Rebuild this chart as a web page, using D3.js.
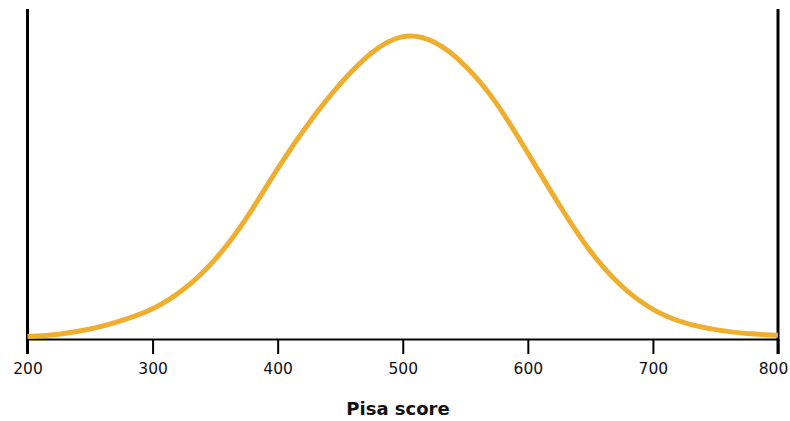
<!DOCTYPE html>
<html>
<head>
<meta charset="utf-8">
<script src="https://cdn.jsdelivr.net/npm/d3@7"></script>
<style>
  html, body { margin: 0; padding: 0; background: #fff; }
  svg { display: block; }
</style>
</head>
<body>
<svg id="chart" width="790" height="421"></svg>
<script>
// Pisa score (x) and relative frequency (% of peak)
const scores = [200, 225, 250, 275, 300, 325, 350, 375, 400, 425, 450, 475, 500,
                525, 550, 575, 600, 625, 650, 675, 700, 725, 750, 775, 800];
const frequency = [0.8, 1.6, 3.3, 6.1, 10.0, 16.5, 26.3, 39.9, 56.2, 71.3, 84.2, 94.4, 99.8,
                   98.0, 90.1, 77.7, 61.4, 44.4, 29.0, 17.5, 9.8, 5.4, 3.1, 1.8, 1.2];
const tickValues = [200, 300, 400, 500, 600, 700, 800];
const xTitle = "Pisa score";

const svg = d3.select("#chart");
const x = d3.scaleLinear().domain([200, 800]).range([27.5, 778]);
const y = d3.scaleLinear().domain([0, 100]).range([339, 36]);

// side lines
svg.append("line").attr("x1", x(200)).attr("x2", x(200)).attr("y1", 9).attr("y2", 354)
  .attr("stroke", "#000").attr("stroke-width", 3);
svg.append("line").attr("x1", x(800)).attr("x2", x(800)).attr("y1", 9).attr("y2", 354)
  .attr("stroke", "#000").attr("stroke-width", 3);

// x axis
const axis = d3.axisBottom(x).tickValues(tickValues).tickSize(15).tickSizeOuter(0).tickPadding(9)
  .tickFormat(d3.format("d"));
const gx = svg.append("g").attr("transform", `translate(0,${y(0)})`).call(axis);
gx.select(".domain").attr("stroke", "#000").attr("stroke-width", 2.2);
gx.selectAll(".tick line").attr("stroke", "#000").attr("stroke-width", 2);
gx.selectAll(".tick text")
  .attr("font-family", "'DejaVu Sans', sans-serif")
  .attr("font-size", 15.5)
  .attr("fill", "#111")
  .attr("dx", d => d === 800 ? -5 : 0);

// axis title
svg.append("text")
  .attr("x", 398).attr("y", 415)
  .attr("text-anchor", "middle")
  .attr("font-family", "'DejaVu Sans', sans-serif")
  .attr("font-weight", "bold")
  .attr("font-size", 18)
  .attr("fill", "#111")
  .text(xTitle);

// curve
const data = scores.map((s, i) => ({ s, f: frequency[i] }));
const line = d3.line().x(d => x(d.s)).y(d => y(d.f)).curve(d3.curveNatural);
svg.append("path").datum(data)
  .attr("d", line)
  .attr("fill", "none")
  .attr("stroke", "#EFAE2D")
  .attr("stroke-width", 5)
  .attr("stroke-linecap", "butt");
</script>
</body>
</html>
